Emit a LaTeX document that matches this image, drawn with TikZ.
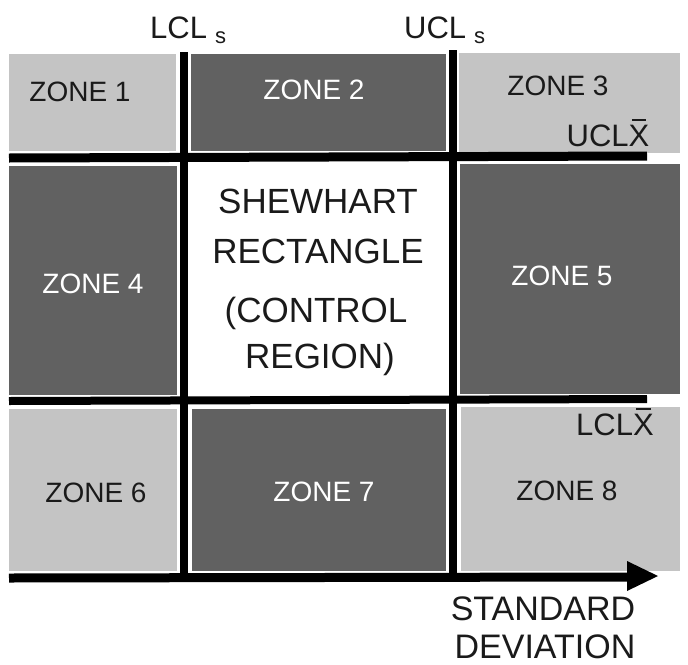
\documentclass[tikz,border=0pt]{standalone}
\usepackage{fontspec}
\setmainfont{Liberation Sans}
\definecolor{lightz}{HTML}{C4C4C4}
\definecolor{darkz}{HTML}{616161}
\definecolor{ink}{HTML}{1A1A1A}
\newcommand{\barredX}{\makebox[0pt][l]{\hspace{0.1em}\rule[0.8em]{0.47em}{0.07em}}X}
\begin{document}
\begin{tikzpicture}[x=1pt,y=-1pt,inner sep=0pt,
  lightzone/.style={fill=lightz},
  darkzone/.style={fill=darkz},
  gridline/.style={line width=8pt,draw=black},
  zonetxtd/.style={anchor=base,text=ink,font=\fontsize{28}{28}\selectfont},
  zonetxtl/.style={anchor=base,text=white,font=\fontsize{28}{28}\selectfont},
  centertxt/.style={anchor=base,text=ink,font=\fontsize{35}{35}\selectfont},
  limtxt/.style={anchor=base west,text=ink,font=\fontsize{31}{31}\selectfont},
  axistxt/.style={anchor=base,text=ink,font=\fontsize{34}{34}\selectfont}]
\useasboundingbox (0,0) rectangle (688,664);
\fill[white] (0,0) rectangle (688,664);
% zones
\fill[lightzone] (9,54) rectangle (176,151);
\fill[darkzone]  (191,54) rectangle (446,151);
\fill[lightzone] (459,53) rectangle (680,153);
\fill[darkzone]  (9,166) rectangle (177,395);
\fill[darkzone]  (460,164) rectangle (680,394);
\fill[lightzone] (9,409) rectangle (177,571);
\fill[darkzone]  (192,409) rectangle (446,571);
\fill[lightzone] (461,407) rectangle (680,571);
% coordinates
\coordinate (v1t) at (184,52);
\coordinate (v1b) at (184,577);
\coordinate (v2t) at (453,50);
\coordinate (v2b) at (453,577);
\coordinate (h1l) at (9,158);
\coordinate (h1r) at (647,156);
\coordinate (h2l) at (9,401);
\coordinate (h2r) at (647,399);
\coordinate (axl) at (9,578);
\coordinate (axr) at (630,577);
\coordinate (axtip) at (658,576);
% grid lines
\draw[gridline] (v1t) -- (v1b);
\draw[gridline] (v2t) -- (v2b);
\draw[gridline,line width=9pt] (h1l) -- (h1r);
\draw[gridline] (h2l) -- (h2r);
% axis
\draw[line width=9pt] (axl) -- (axr);
\fill[black] (627,561) -- (axtip) -- (627,591) -- cycle;
% labels
\node[limtxt] (lcls) at (150,38) {LCL\hspace{8pt}\raisebox{-5pt}{\fontsize{22}{22}\selectfont s}};
\node[limtxt] (ucls) at (404,38) {UCL\hspace{8pt}\raisebox{-5pt}{\fontsize{22}{22}\selectfont s}};
\node[zonetxtd] (z1) at (80,101) {ZONE 1};
\node[zonetxtl] (z2) at (314,99) {ZONE 2};
\node[zonetxtd] (z3) at (558,95) {ZONE 3};
\node[limtxt,anchor=base] (uclx) at (608,146) {UCL\barredX};
\node[zonetxtl] (z4) at (93,293) {ZONE 4};
\node[zonetxtl] (z5) at (562,285) {ZONE 5};
\node[centertxt] (c1) at (318,213) {SHEWHART};
\node[centertxt] (c2) at (318,263) {RECTANGLE};
\node[centertxt] (c3) at (316,322) {(CONTROL};
\node[centertxt] (c4) at (320,368) {REGION)};
\node[limtxt,anchor=base] (lclx) at (615,435) {LCL\barredX};
\node[zonetxtd] (z6) at (96,502) {ZONE 6};
\node[zonetxtl] (z7) at (324,501) {ZONE 7};
\node[zonetxtd] (z8) at (567,500) {ZONE 8};
\node[axistxt] (sd1) at (543,620) {STANDARD};
\node[axistxt] (sd2) at (545,658) {DEVIATION};
\end{tikzpicture}
\end{document}
